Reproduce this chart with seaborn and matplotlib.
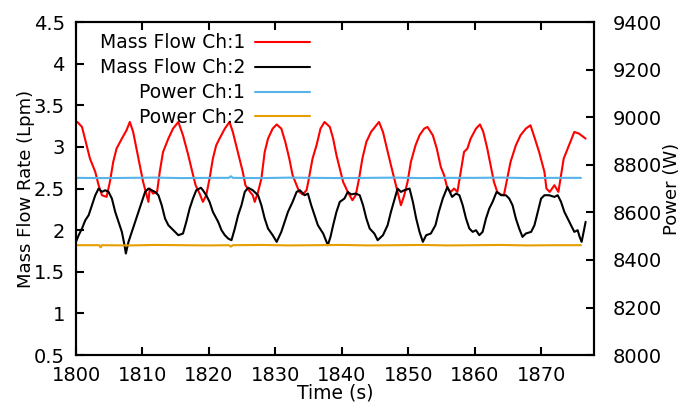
import numpy as np
import pandas as pd
import matplotlib
matplotlib.use("Agg")
import matplotlib.pyplot as plt
import seaborn as sns

# ---------------- data ----------------
mf1_time = [1800.2, 1800.9, 1801.6, 1802.1, 1802.9, 1803.4, 1803.9, 1804.6, 1805.1, 1805.6,
            1806.1, 1806.9, 1807.6, 1808.1, 1808.6, 1809.1, 1809.6, 1810.1, 1810.5, 1810.9,
            1811.1, 1811.6, 1812.2, 1812.6, 1813.1, 1813.9, 1814.6, 1815.4, 1816.1, 1816.9,
            1817.5, 1818.0, 1818.6, 1819.1, 1819.6, 1820.1, 1820.6, 1821.1, 1821.6, 1822.4,
            1823.1, 1823.6, 1824.1, 1824.6, 1825.1, 1825.5, 1826.0, 1826.6, 1826.9, 1827.4,
            1827.9, 1828.4, 1828.9, 1829.6, 1830.2, 1830.9, 1831.5, 1832.1, 1832.6, 1833.2,
            1833.6, 1834.1, 1834.7, 1835.0, 1835.6, 1836.2, 1836.8, 1837.4, 1838.2, 1838.7,
            1839.2, 1839.7, 1840.2, 1840.9, 1841.6, 1842.1, 1842.6, 1843.1, 1843.7, 1844.4,
            1845.2, 1845.6, 1846.2, 1846.8, 1847.4, 1847.9, 1848.4, 1848.9, 1849.4, 1849.9,
            1850.4, 1851.1, 1851.7, 1852.4, 1852.9, 1853.7, 1854.3, 1854.9, 1855.4, 1855.9,
            1856.4, 1856.9, 1857.4, 1857.9, 1858.4, 1858.9, 1859.4, 1860.2, 1860.8, 1861.3,
            1861.9, 1862.4, 1862.9, 1863.4, 1863.9, 1864.4, 1864.9, 1865.4, 1866.2, 1866.9,
            1867.7, 1868.4, 1868.9, 1869.7, 1870.5, 1870.8, 1871.3, 1872.0, 1872.6, 1873.0,
            1873.4, 1874.2, 1875.0, 1875.7, 1876.7]
mf1_lpm = [3.30, 3.24, 3.02, 2.86, 2.70, 2.54, 2.42, 2.40, 2.58, 2.82,
           2.98, 3.10, 3.20, 3.30, 3.18, 2.98, 2.78, 2.58, 2.46, 2.34,
           2.50, 2.44, 2.46, 2.70, 2.94, 3.10, 3.22, 3.30, 3.14, 2.90,
           2.70, 2.54, 2.44, 2.34, 2.42, 2.62, 2.86, 3.02, 3.10, 3.22,
           3.30, 3.18, 3.02, 2.86, 2.70, 2.54, 2.48, 2.42, 2.34, 2.46,
           2.62, 2.94, 3.10, 3.22, 3.27, 3.22, 3.06, 2.86, 2.66, 2.54,
           2.46, 2.43, 2.48, 2.60, 2.86, 3.02, 3.22, 3.30, 3.24, 3.10,
           2.90, 2.74, 2.58, 2.46, 2.36, 2.42, 2.62, 2.86, 3.06, 3.18,
           3.26, 3.30, 3.18, 2.98, 2.78, 2.62, 2.46, 2.30, 2.42, 2.58,
           2.82, 3.02, 3.14, 3.22, 3.24, 3.14, 2.98, 2.76, 2.66, 2.50,
           2.46, 2.50, 2.46, 2.70, 2.94, 2.98, 3.10, 3.22, 3.27, 3.18,
           2.98, 2.78, 2.58, 2.46, 2.43, 2.42, 2.62, 2.82, 3.02, 3.14,
           3.22, 3.26, 3.14, 2.94, 2.70, 2.50, 2.46, 2.54, 2.46, 2.66,
           2.86, 3.02, 3.18, 3.16, 3.10]

mf2_time = [1800.0, 1800.4, 1800.9, 1801.4, 1801.9, 1802.4, 1802.9, 1803.4, 1803.9, 1804.4,
            1804.9, 1805.4, 1805.9, 1806.4, 1806.9, 1807.3, 1807.5, 1807.9, 1808.4, 1808.9,
            1809.4, 1809.9, 1810.4, 1810.9, 1811.4, 1811.9, 1812.4, 1812.9, 1813.4, 1813.9,
            1814.4, 1814.9, 1815.4, 1816.1, 1816.6, 1817.1, 1817.6, 1818.1, 1818.8, 1819.1,
            1819.6, 1820.1, 1820.6, 1821.4, 1821.9, 1822.4, 1822.9, 1823.4, 1823.9, 1824.4,
            1824.9, 1825.4, 1825.9, 1826.6, 1827.4, 1827.9, 1828.4, 1828.9, 1829.6, 1830.2,
            1830.9, 1831.4, 1831.9, 1832.6, 1833.2, 1833.7, 1834.4, 1834.9, 1835.4, 1835.9,
            1836.4, 1837.2, 1837.9, 1838.3, 1838.7, 1839.2, 1839.7, 1840.4, 1840.9, 1841.4,
            1842.1, 1842.7, 1843.2, 1843.7, 1844.2, 1844.9, 1845.4, 1846.2, 1846.9, 1847.4,
            1847.9, 1848.4, 1848.9, 1849.4, 1850.2, 1850.7, 1851.2, 1851.7, 1852.2, 1852.7,
            1853.4, 1854.1, 1854.6, 1855.2, 1855.9, 1856.6, 1857.2, 1857.7, 1858.2, 1858.7,
            1859.2, 1859.7, 1860.2, 1860.7, 1861.2, 1861.7, 1862.2, 1862.7, 1863.3, 1864.0,
            1864.7, 1865.2, 1865.7, 1866.2, 1866.7, 1867.2, 1867.7, 1868.5, 1869.0, 1869.5,
            1870.0, 1870.5, 1871.2, 1872.0, 1872.5, 1873.0, 1873.5, 1874.0, 1874.5, 1875.0,
            1875.5, 1875.8, 1876.1, 1876.5, 1876.7]
mf2_lpm = [1.86, 1.94, 2.02, 2.12, 2.18, 2.30, 2.42, 2.50, 2.46, 2.48,
           2.46, 2.38, 2.22, 2.10, 1.98, 1.82, 1.72, 1.86, 1.98, 2.10,
           2.22, 2.34, 2.46, 2.50, 2.48, 2.46, 2.42, 2.30, 2.14, 2.06,
           2.02, 1.98, 1.94, 1.96, 2.10, 2.26, 2.38, 2.48, 2.51, 2.48,
           2.42, 2.34, 2.22, 2.10, 2.00, 1.94, 1.90, 1.88, 2.02, 2.18,
           2.30, 2.46, 2.51, 2.48, 2.42, 2.30, 2.14, 2.02, 1.94, 1.86,
           1.98, 2.10, 2.22, 2.34, 2.46, 2.48, 2.42, 2.44, 2.30, 2.18,
           2.06, 1.96, 1.82, 1.92, 2.06, 2.22, 2.34, 2.38, 2.46, 2.43,
           2.44, 2.42, 2.30, 2.14, 2.02, 1.96, 1.88, 1.94, 2.06, 2.22,
           2.36, 2.50, 2.46, 2.48, 2.50, 2.34, 2.14, 1.98, 1.86, 1.94,
           1.96, 2.06, 2.22, 2.38, 2.52, 2.40, 2.44, 2.42, 2.30, 2.14,
           2.02, 1.98, 2.00, 1.94, 1.98, 2.14, 2.26, 2.34, 2.46, 2.42,
           2.42, 2.38, 2.30, 2.14, 2.02, 1.92, 1.96, 1.98, 2.06, 2.22,
           2.38, 2.42, 2.42, 2.40, 2.42, 2.34, 2.22, 2.14, 2.06, 1.98,
           2.00, 1.92, 1.86, 2.02, 2.10]

pw1_time = [1800, 1804, 1808, 1812, 1816, 1820, 1823, 1823.3, 1823.6, 1828, 1832, 1836, 1840,
            1844, 1848, 1852, 1856, 1860, 1864, 1868, 1872, 1876]
pw1_w = [8745, 8744, 8745, 8746, 8744, 8745, 8745, 8752, 8745, 8744, 8746, 8745, 8744,
         8745, 8746, 8744, 8745, 8745, 8746, 8744, 8745, 8745]

pw2_time = [1800, 1803.5, 1803.7, 1803.9, 1808, 1812, 1816, 1820, 1823, 1823.3, 1823.6, 1828,
            1832, 1836, 1840, 1844, 1848, 1852, 1856, 1860, 1864, 1868, 1872, 1876]
pw2_w = [8462, 8462, 8453, 8462, 8461, 8463, 8462, 8461, 8462, 8456, 8462, 8463,
         8461, 8462, 8463, 8461, 8462, 8463, 8461, 8462, 8463, 8461, 8462, 8462]

x_ticks = [1800, 1810, 1820, 1830, 1840, 1850, 1860, 1870]
y1_ticks = [0.5, 1, 1.5, 2, 2.5, 3, 3.5, 4, 4.5]
y2_ticks = [8000, 8200, 8400, 8600, 8800, 9000, 9200, 9400]

# ---------------- style ----------------
sns.set_theme(style="white")
plt.rcParams['font.family'] = ['DejaVu Sans']
plt.rcParams['text.color'] = 'black'
plt.rcParams['axes.labelcolor'] = 'black'
plt.rcParams['axes.linewidth'] = 1.5

fig = plt.figure(figsize=(6.91, 4.04), dpi=100)
ax = fig.add_axes([0.110, 0.121, 0.750, 0.8245])
ax2 = ax.twinx()

lw = 1.5
sns.lineplot(x=mf1_time, y=mf1_lpm, ax=ax, color="#ff0000", lw=lw, label="Mass Flow Ch:1",
             estimator=None, sort=False)
sns.lineplot(x=mf2_time, y=mf2_lpm, ax=ax, color="#000000", lw=lw, label="Mass Flow Ch:2",
             estimator=None, sort=False)
sns.lineplot(x=pw1_time, y=pw1_w, ax=ax2, color="#56b4e9", lw=lw, label="Power Ch:1",
             estimator=None, sort=False)
sns.lineplot(x=pw2_time, y=pw2_w, ax=ax2, color="#e69f00", lw=lw, label="Power Ch:2",
             estimator=None, sort=False)

ax.set_xlim(1800, 1878)
ax.set_ylim(0.5, 4.5)
ax2.set_ylim(8000, 9400)
ax.set_xticks(x_ticks)
ax.set_yticks(y1_ticks)
ax.set_yticklabels([f"{v:g}" for v in y1_ticks])
ax2.set_yticks(y2_ticks)

fs = 14
ax.tick_params(axis='x', direction='in', length=6, width=1.5, labelsize=fs, top=True,
               bottom=True, pad=8, colors='black')
ax.tick_params(axis='y', direction='in', length=6, width=1.5, labelsize=fs, left=True,
               right=False, pad=8, colors='black')
ax2.tick_params(axis='y', direction='in', length=6, width=1.5, labelsize=fs, right=True,
                left=False, pad=13, colors='black')

for a in (ax, ax2):
    for s in a.spines.values():
        s.set_color('black')
        s.set_linewidth(1.5)
        s.set_visible(True)

ax.set_xlabel("Time (s)", fontsize=13.5, labelpad=-1, color='black')
ax.set_ylabel("Mass Flow Rate (Lpm)", fontsize=13, labelpad=-1, color='black')
ax2.set_ylabel("Power (W)", fontsize=13, labelpad=1, color='black')

# combine legends
h1, l1 = ax.get_legend_handles_labels()
h2, l2 = ax2.get_legend_handles_labels()
if ax.get_legend():
    ax.get_legend().remove()
if ax2.get_legend():
    ax2.get_legend().remove()
leg = ax2.legend(h1 + h2, l1 + l2, loc='upper left', bbox_to_anchor=(0.02, 1.005),
                 frameon=False, markerfirst=False, fontsize=13.5, handlelength=2.9,
                 handletextpad=0.55, labelspacing=0.31, borderpad=0.2)
for t in leg.get_texts():
    t.set_color('black')
for line in leg.get_lines():
    line.set_linewidth(1.5)

fig.savefig("out.png", dpi=100)
